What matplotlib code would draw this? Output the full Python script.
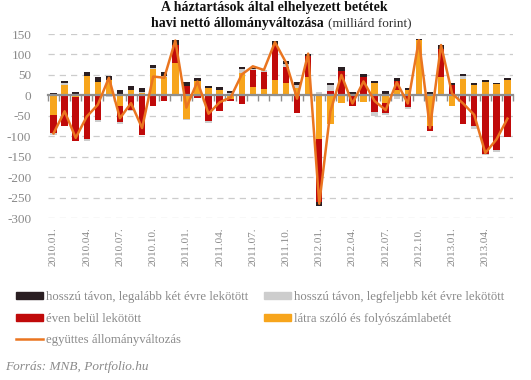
import numpy as np
import matplotlib
matplotlib.use("Agg")
import matplotlib.pyplot as plt
from matplotlib.patches import Patch
from matplotlib.lines import Line2D
from matplotlib.ticker import NullFormatter, FixedLocator

plt.rcParams["axes.unicode_minus"] = False

# monthly data, 2010.01 - 2013.06 (milliard forint)
tick_labels = ["2010.01.", "2010.04.", "2010.07.", "2010.10.",
               "2011.01.", "2011.04.", "2011.07.", "2011.10.",
               "2012.01.", "2012.04.", "2012.07.", "2012.10.",
               "2013.01.", "2013.04."]

sight = [-48, 25, -3, 47, 32, 38, -27, 12, 6, 65, 44, 79, -57, 34, 17, 12, -9, 54, 20, 15, 38,
         30, 17, 46, -106, -71, -18, -1, -16, 29, -19, 12, 12, 135, -76, 45, -26, 39, 25, 32, 27, 38]
within_year = [-45, -74, -109, -108, -61, 0, -39, -36, -98, -27, -15, 43, 22, -7, -63, -39, -5, -20, 42, 42, 84,
               39, -44, 49, -155, 11, 59, -26, 45, -40, -24, 22, -28, 0, -12, 68, 25, -71, -75, -143, -133, -101]
long_max2 = [-4, 5, 4, -3, -5, -4, -3, -3, 2, 2, 4, 0, -4, 0, -5, 0, 6, 10, 3, 4, 0,
             8, 9, 0, 7, 14, 0, 0, 0, -11, -4, -10, -6, 0, 4, 0, 0, 8, -7, -4, -5, 0]
long_min2 = [5, 4, 3, 10, 12, 9, 13, 10, 9, 7, 9, 14, 10, 8, 5, 8, 4, 5, 3, 2, 10,
             7, 6, 5, -9, 6, 10, 7, 7, 5, 10, 8, 5, 3, 3, 11, 6, 6, 5, 5, 4, 5]
total = [-93, -39, -104, -52, -23, 43, -56, -19, -80, 46, 43, 134, -30, 34, -45, -17, -5, 51, 71, 62, 130,
         80, -8, 102, -265, -40, 50, -20, 34, -14, -36, 32, -20, 135, -80, 123, 4, -20, -48, -141, -108, -57]

c_dark = "#2a1e22"
c_gray = "#cdcdcd"
c_red = "#c00a0a"
c_orange = "#f7a51c"
c_line = "#ea7520"
txt = "#8a8a8a"
serif = "Liberation Serif"

n = len(total)
x = np.arange(n)

fig = plt.figure(figsize=(5.31, 3.8), dpi=100)
ax = fig.add_axes([48 / 531, 1 - 218 / 380, 465 / 531, 184 / 380])

pos = np.zeros(n)
neg = np.zeros(n)
for vals, col in zip([sight, within_year, long_max2, long_min2], [c_orange, c_red, c_gray, c_dark]):
    v = np.array(vals, dtype=float)
    ax.bar(x, v, bottom=np.where(v >= 0, pos, neg), width=0.58, color=col, linewidth=0, zorder=2)
    pos += np.clip(v, 0, None)
    neg += np.clip(v, None, 0)

ax.plot(x, total, color=c_line, lw=1.8, zorder=4)

ax.set_xlim(-0.5, n - 0.5)
ax.set_ylim(-300, 150)
ax.set_yticks(np.arange(-300, 151, 50))
ax.yaxis.grid(True, color="#cccccc", ls=(0, (5, 4)), lw=0.9, zorder=0)
for side in ["top", "left", "right"]:
    ax.spines[side].set_visible(False)
ax.tick_params(axis="y", length=0, pad=12, labelsize=9.5, labelcolor=txt)
for lab in ax.get_yticklabels():
    lab.set_family(serif)

# zero line with small tick marks between the months
ax.spines["bottom"].set_position(("data", 0))
ax.spines["bottom"].set_color("#8f8f8f")
ax.spines["bottom"].set_linewidth(1.6)
ax.spines["bottom"].set_zorder(3)
ax.xaxis.set_major_locator(FixedLocator(np.arange(-0.5, n, 1.0)))
ax.xaxis.set_major_formatter(NullFormatter())
ax.tick_params(axis="x", direction="out", length=4, width=1, color="#8f8f8f")

# date labels along the bottom
dates = ax.secondary_xaxis("bottom")
dates.set_xticks(x[::3])
dates.set_xticklabels(tick_labels, rotation=90, fontsize=8, color=txt, family=serif)
dates.tick_params(axis="x", length=0, pad=7)
dates.spines["bottom"].set_visible(False)

fig.text(274 / 531, 1 - 8 / 380, "A háztartások által elhelyezett betétek", ha="center", va="center",
         fontsize=10, fontweight="bold", family=serif, color="#111111")
fig.text(324 / 531, 1 - 23 / 380, "havi nettó állományváltozása", ha="right", va="center",
         fontsize=10, fontweight="bold", family=serif, color="#111111")
fig.text(328 / 531, 1 - 23 / 380, "(milliárd forint)", ha="left", va="center",
         fontsize=9.5, family=serif, color="#333333")

handles = [Patch(color=c_dark), Patch(color=c_red), Line2D([], [], color=c_line, lw=1.8),
           Patch(color=c_gray), Patch(color=c_orange)]
labels = ["hosszú távon, legalább két évre lekötött", "éven belül lekötött", "együttes állományváltozás",
          "hosszú távon, legfeljebb két évre lekötött", "látra szóló és folyószámlabetét"]
fig.legend(handles, labels, loc="upper left", bbox_to_anchor=(11 / 531, 1 - 286 / 380), ncol=2, frameon=False,
           prop={"family": serif, "size": 9.2}, labelcolor=txt, handlelength=2.1, handleheight=0.45,
           handletextpad=0.2, labelspacing=0.75, columnspacing=1.3, borderaxespad=0)

fig.text(5 / 531, 1 - 367 / 380, "Forrás: MNB, Portfolio.hu", ha="left", va="center", fontsize=9.5,
         style="italic", family=serif, color=txt)

fig.savefig("out.png", dpi=100)
